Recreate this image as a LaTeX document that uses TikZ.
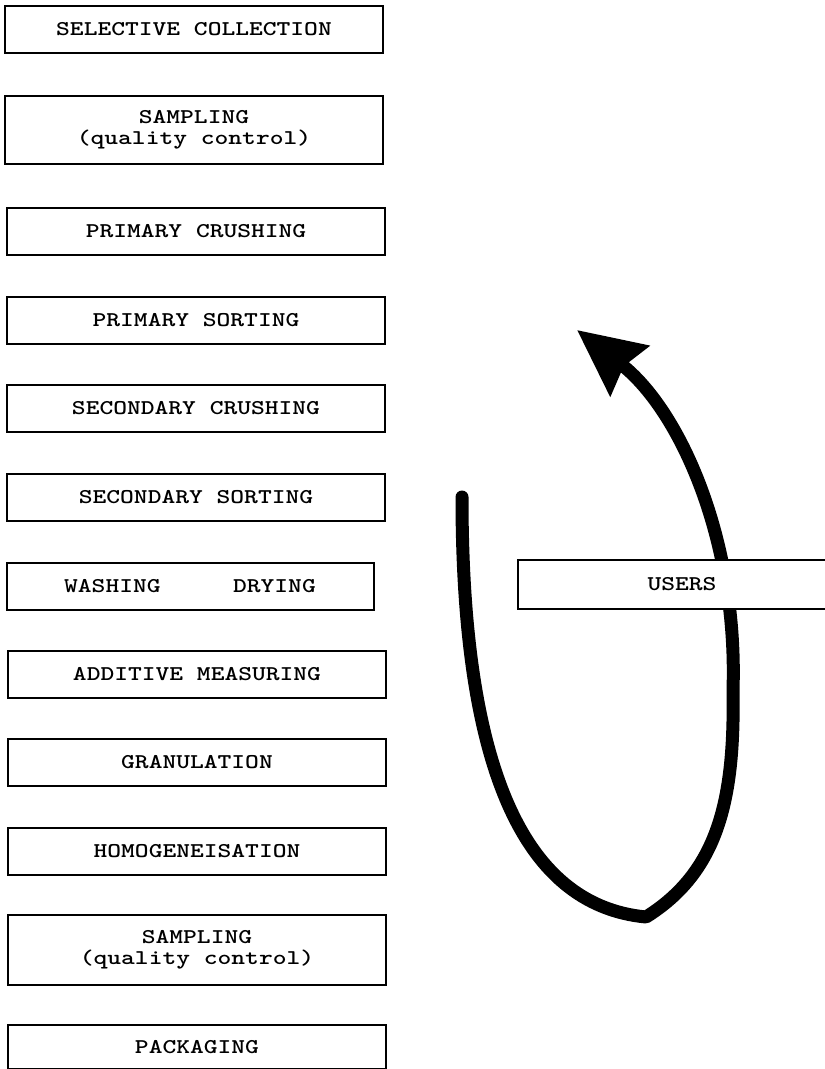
\documentclass[tikz,border=0pt]{standalone}
\usepackage{graphicx}
\usepackage{tikz}
\usetikzlibrary{arrows.meta}

\newcommand{\stepfont}{\fontsize{21}{19.5}\selectfont\ttfamily\bfseries}
\newcommand{\wide}[1]{\scalebox{1.25}[1]{#1}}
\newcommand{\twolines}[2]{\wide{\begin{tabular}{@{}c@{}}#1\\#2\end{tabular}}}

\begin{document}
\begin{tikzpicture}[x=1pt, y=-1pt,
	stepbox/.style={draw, fill=white, line width=2pt, minimum width=378pt, minimum height=47pt, inner sep=0pt, font=\stepfont},
	tallbox/.style={stepbox, minimum height=68pt},
	cyclearrow/.style={line width=13pt, line cap=round, line join=round, -{Stealth[length=66pt, width=62pt, inset=7pt]}}]
				\useasboundingbox (0, 0) rectangle (825, 1069);
				
				%Process steps
				\node[stepbox] (collect) at (194, 29) {\wide{SELECTIVE COLLECTION}};
				\node[tallbox] (sample1) at (194, 130) {\twolines{SAMPLING}{(quality control)}};
				\node[stepbox] (crush1) at (196, 231) {\wide{PRIMARY CRUSHING}};
				\node[stepbox] (sort1) at (196, 320) {\wide{PRIMARY SORTING}};
				\node[stepbox] (crush2) at (196, 408) {\wide{SECONDARY CRUSHING}};
				\node[stepbox] (sort2) at (196, 497) {\wide{SECONDARY SORTING}};
				\node[stepbox, minimum width=367pt] (wash) at (190, 586) {\wide{WASHING\hspace{58pt}DRYING}};
				\node[stepbox] (additive) at (197, 674) {\wide{ADDITIVE MEASURING}};
				\node[stepbox] (granul) at (197, 762) {\wide{GRANULATION}};
				\node[stepbox] (homog) at (197, 851) {\wide{HOMOGENEISATION}};
				\node[tallbox, minimum height=70pt] (sample2) at (197, 950) {\twolines{SAMPLING}{(quality control)}};
				\node[stepbox, minimum height=44pt] (pack) at (197, 1047) {\wide{PACKAGING}};
				
				%Loop arrow
				\coordinate (loopstart) at (462, 497);
				\coordinate (loopbottom) at (646, 917);
				\coordinate (loopright) at (733, 690);
				\coordinate (looptip) at (577, 330);
				\draw[cyclearrow] (loopstart) .. controls (462, 760) and (520, 905) .. (loopbottom)
					.. controls (718, 872) and (735, 800) .. (loopright)
					.. controls (738, 540) and (680, 410) .. (looptip);
				
				%Users
				\node[stepbox, minimum width=328pt, minimum height=49pt] (users) at (682, 584) {\wide{USERS}};
			\end{tikzpicture}
\end{document}
